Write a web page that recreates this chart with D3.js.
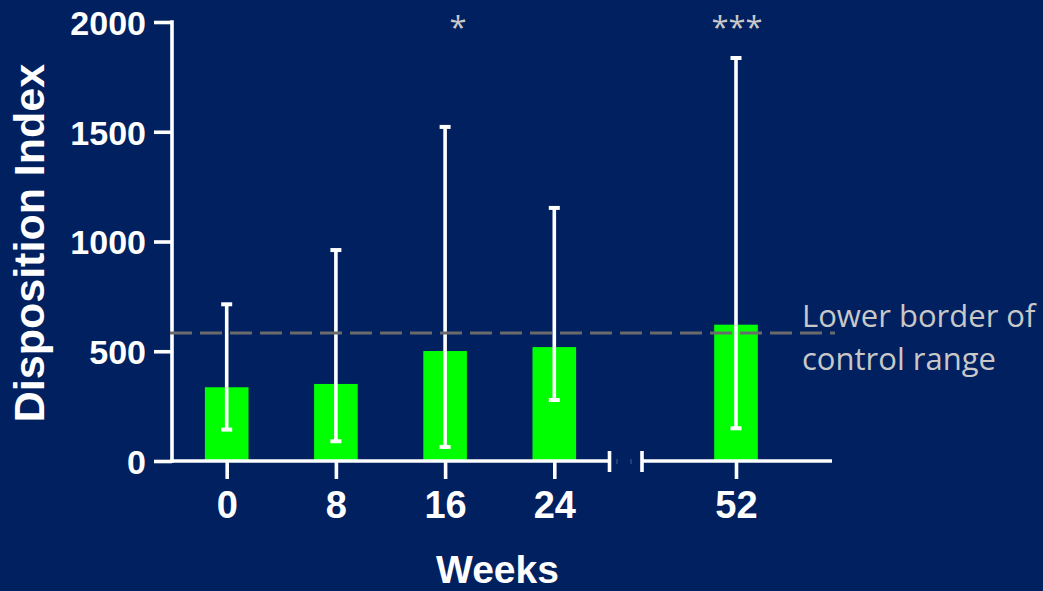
<!DOCTYPE html>
<html>
<head>
<meta charset="utf-8">
<script src="https://cdn.jsdelivr.net/npm/d3@7"></script>
<style>
  html, body { margin: 0; padding: 0; background: #002060; }
  svg { display: block; }
</style>
</head>
<body>
<svg id="chart" width="1043" height="591"></svg>
<script>
// ---- Data ----
const weeks = [0, 8, 16, 24, 52];
const weekLabels = ["0", "8", "16", "24", "52"];
const meanValues = [336, 351, 501, 519, 621];
const upperValues = [714, 961, 1522, 1153, 1836];
const lowerValues = [143, 90, 64, 278, 149];
const significance = ["", "", "*", "", "***"];
const yTickValues = [0, 500, 1000, 1500, 2000];
const controlLowerBorder = 583;
const controlLabel = ["Lower border of", "control range"];

// ---- Layout ----
const W = 1043, H = 591;
const svg = d3.select("#chart");
svg.append("rect").attr("width", W).attr("height", H).attr("fill", "#002060");

const axisX = 172, axisY = 461;
const y = d3.scaleLinear().domain([0, 2000]).range([461, 22]);
// broken x axis: piecewise linear scale
const x = d3.scaleLinear().domain([0, 24, 52]).range([226.7, 554.3, 736]);
const barW = 43.6;
const white = "#ffffff";
const sw = 3.6;

// bars
svg.append("g").selectAll("rect").data(weeks).join("rect")
  .attr("x", (d) => x(d) - barW / 2)
  .attr("y", (d, i) => y(meanValues[i]))
  .attr("width", barW)
  .attr("height", (d, i) => y(0) - y(meanValues[i]))
  .attr("fill", "#00ff00");

// error bars
const eb = svg.append("g");
weeks.forEach((d, i) => {
  const cx = x(d);
  eb.append("line").attr("x1", cx).attr("x2", cx)
    .attr("y1", y(upperValues[i])).attr("y2", y(lowerValues[i]))
    .attr("stroke", white).attr("stroke-width", sw);
  [upperValues[i], lowerValues[i]].forEach(v => {
    eb.append("line").attr("x1", cx - 5.5).attr("x2", cx + 5.5)
      .attr("y1", y(v)).attr("y2", y(v))
      .attr("stroke", white).attr("stroke-width", 4);
  });
});

// y axis
const yAxis = d3.axisLeft(y).tickValues(yTickValues).tickSize(18).tickPadding(8).tickFormat(d3.format("d"));
const gy = svg.append("g").attr("transform", `translate(${axisX},0)`).call(yAxis);
gy.select(".domain").remove();
gy.append("line").attr("x1", 0).attr("x2", 0).attr("y1", y(2000) - sw / 2).attr("y2", y(0) + sw / 2)
  .attr("stroke", white).attr("stroke-width", sw);
gy.selectAll(".tick line").attr("stroke", white).attr("stroke-width", sw);
gy.selectAll(".tick text").attr("fill", white)
  .style("font-family", "'Liberation Sans', Arial, sans-serif")
  .style("font-weight", "bold").style("font-size", "34px")
  .attr("dy", "0.36em");

// x axis (ticks and labels via d3 axis)
const xAxis = d3.axisBottom(x).tickValues(weeks).tickSize(18).tickPadding(12)
  .tickFormat((d, i) => weekLabels[i]);
const gx = svg.append("g").attr("transform", `translate(0,${axisY})`).call(xAxis);
gx.select(".domain").remove();
gx.selectAll(".tick line").attr("stroke", white).attr("stroke-width", sw);
gx.selectAll(".tick text").attr("fill", white)
  .style("font-family", "'Liberation Sans', Arial, sans-serif")
  .style("font-weight", "bold").style("font-size", "38px");

// broken x-axis line segments
gx.append("line").attr("x1", axisX - sw / 2).attr("x2", 610).attr("y1", 0).attr("y2", 0)
  .attr("stroke", white).attr("stroke-width", sw);
gx.append("line").attr("x1", 642).attr("x2", 832).attr("y1", 0).attr("y2", 0)
  .attr("stroke", white).attr("stroke-width", sw);
[609.5, 642].forEach(bx => {
  gx.append("line").attr("x1", bx).attr("x2", bx).attr("y1", -10).attr("y2", 11)
    .attr("stroke", white).attr("stroke-width", sw);
});
[617, 631].forEach(bx => {
  gx.append("line").attr("x1", bx).attr("x2", bx).attr("y1", -2).attr("y2", 3)
    .attr("stroke", "#4a5f8f").attr("stroke-width", 1);
});

// dashed control line
svg.append("line")
  .attr("x1", axisX - 2).attr("x2", 835)
  .attr("y1", y(controlLowerBorder)).attr("y2", y(controlLowerBorder))
  .attr("stroke", "#6b6b6b").attr("stroke-width", 3)
  .attr("stroke-dasharray", "22,8");

// control label
const lab = svg.append("text")
  .attr("x", 802).attr("y", 327)
  .attr("fill", "#c8c8c8")
  .style("font-family", "'Open Sans', 'Noto Sans', sans-serif")
  .style("font-size", "31px");
controlLabel.forEach((t, i) => {
  lab.append("tspan").attr("x", 802).attr("y", 327 + i * 43).text(t);
});

// significance asterisks
svg.append("g").selectAll("text").data(weeks).join("text")
  .attr("x", (d, i) => x(d) + (significance[i].length === 1 ? 13 : 1))
  .attr("y", 38)
  .attr("text-anchor", "middle")
  .attr("fill", "#c8c8c8")
  .style("font-family", "'Open Sans', 'Noto Sans', sans-serif")
  .style("font-size", "31px")
  .text((d, i) => significance[i]);

// axis titles
svg.append("text")
  .attr("transform", "translate(44,243) rotate(-90)")
  .attr("text-anchor", "middle")
  .attr("fill", white)
  .style("font-family", "'Liberation Sans', Arial, sans-serif")
  .style("font-weight", "bold").style("font-size", "43px")
  .text("Disposition Index");

svg.append("text")
  .attr("x", 497.5).attr("y", 583)
  .attr("text-anchor", "middle")
  .attr("fill", white)
  .style("font-family", "'Liberation Sans', Arial, sans-serif")
  .style("font-weight", "bold").style("font-size", "39px")
  .text("Weeks");
</script>
</body>
</html>
